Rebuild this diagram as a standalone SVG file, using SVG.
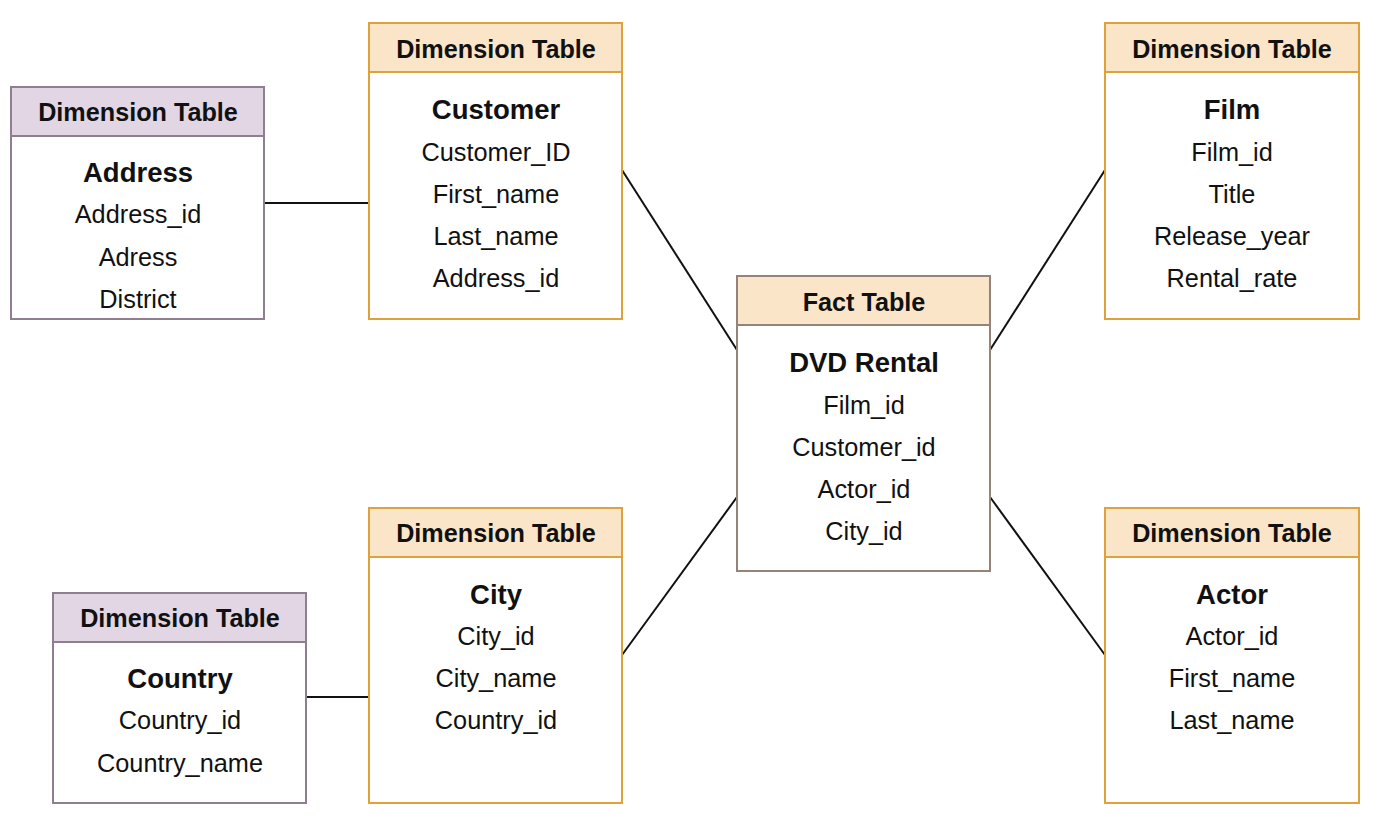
<svg xmlns="http://www.w3.org/2000/svg" width="1400" height="822" viewBox="0 0 1400 822">
<style>
text{font-family:"Liberation Sans",Arial,sans-serif;fill:#111;text-anchor:middle;dominant-baseline:central}
.h{font-weight:bold;font-size:25.2px}
.t{font-weight:bold;font-size:27.5px}
.r{font-size:25.3px}
.bo{fill:#fff;stroke:#dfa23a;stroke-width:2}
.ho{fill:#fbe5c9;stroke:#dfa23a;stroke-width:2}
.bp{fill:#fff;stroke:#8d7e90;stroke-width:2}
.hp{fill:#e2d6e5;stroke:#8d7e90;stroke-width:2}
.bf{fill:#fff;stroke:#958379;stroke-width:2}
.hf{fill:#fbe5c9;stroke:#958379;stroke-width:2}
.c line{stroke:#111;stroke-width:2}
</style>
<rect width="1400" height="822" fill="#fff"/>
<g class="c" id="connectors">
<line x1="264" y1="203" x2="369" y2="203"/>
<line x1="622" y1="170" x2="737" y2="350"/>
<line x1="1105" y1="170" x2="990" y2="350"/>
<line x1="622" y1="655" x2="737" y2="497"/>
<line x1="1105" y1="655" x2="990" y2="497"/>
<line x1="306" y1="697" x2="369" y2="697"/>
</g>
<g id="address">
<rect class="bp" x="11" y="87" width="253" height="232"/>
<rect class="hp" x="11" y="87" width="253" height="49"/>
<text class="h" x="138" y="112">Dimension Table</text>
<text class="t" x="138" y="172">Address</text>
<text class="r" x="138" y="214">Address_id</text>
<text class="r" x="138" y="257">Adress</text>
<text class="r" x="138" y="299">District</text>
</g>
<g id="customer">
<rect class="bo" x="369" y="23" width="253" height="296"/>
<rect class="ho" x="369" y="23" width="253" height="49"/>
<text class="h" x="496" y="49">Dimension Table</text>
<text class="t" x="496" y="109">Customer</text>
<text class="r" x="496" y="152">Customer_ID</text>
<text class="r" x="496" y="194">First_name</text>
<text class="r" x="496" y="236">Last_name</text>
<text class="r" x="496" y="278">Address_id</text>
</g>
<g id="fact">
<rect class="bf" x="737" y="276" width="253" height="295"/>
<rect class="hf" x="737" y="276" width="253" height="49"/>
<text class="h" x="864" y="302">Fact Table</text>
<text class="t" x="864" y="362">DVD Rental</text>
<text class="r" x="864" y="405">Film_id</text>
<text class="r" x="864" y="447">Customer_id</text>
<text class="r" x="864" y="489">Actor_id</text>
<text class="r" x="864" y="531">City_id</text>
</g>
<g id="film">
<rect class="bo" x="1105" y="23" width="254" height="296"/>
<rect class="ho" x="1105" y="23" width="254" height="49"/>
<text class="h" x="1232" y="49">Dimension Table</text>
<text class="t" x="1232" y="109">Film</text>
<text class="r" x="1232" y="152">Film_id</text>
<text class="r" x="1232" y="194">Title</text>
<text class="r" x="1232" y="236">Release_year</text>
<text class="r" x="1232" y="278">Rental_rate</text>
</g>
<g id="city">
<rect class="bo" x="369" y="508" width="253" height="295"/>
<rect class="ho" x="369" y="508" width="253" height="49"/>
<text class="h" x="496" y="533">Dimension Table</text>
<text class="t" x="496" y="594">City</text>
<text class="r" x="496" y="636">City_id</text>
<text class="r" x="496" y="678">City_name</text>
<text class="r" x="496" y="720">Country_id</text>
</g>
<g id="country">
<rect class="bp" x="53" y="593" width="253" height="210"/>
<rect class="hp" x="53" y="593" width="253" height="49"/>
<text class="h" x="180" y="618">Dimension Table</text>
<text class="t" x="180" y="678">Country</text>
<text class="r" x="180" y="720">Country_id</text>
<text class="r" x="180" y="763">Country_name</text>
</g>
<g id="actor">
<rect class="bo" x="1105" y="508" width="254" height="295"/>
<rect class="ho" x="1105" y="508" width="254" height="49"/>
<text class="h" x="1232" y="533">Dimension Table</text>
<text class="t" x="1232" y="594">Actor</text>
<text class="r" x="1232" y="636">Actor_id</text>
<text class="r" x="1232" y="678">First_name</text>
<text class="r" x="1232" y="720">Last_name</text>
</g>
</svg>
